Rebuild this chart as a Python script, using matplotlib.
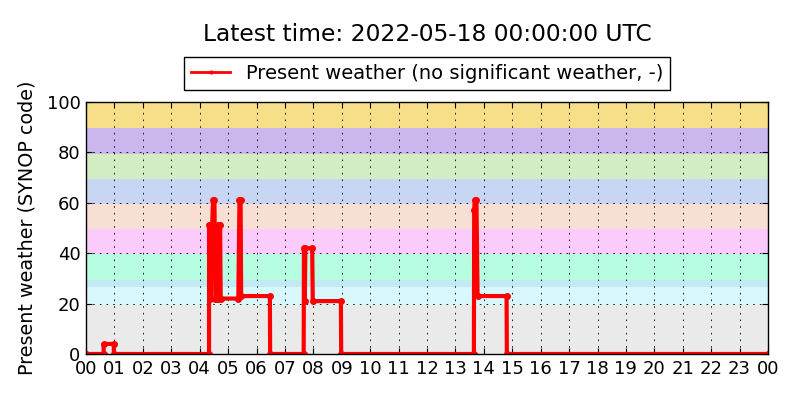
import matplotlib
matplotlib.use("Agg")
import matplotlib.pyplot as plt

# Data (hours since 2022-05-17 00:00 UTC, SYNOP present-weather code)
hours = [0, 0.62, 0.62, 0.98, 0.98, 4.33, 4.33, 4.37, 4.38, 4.40, 4.44, 4.47,
         4.52, 4.55, 4.60, 4.63, 4.66, 4.68, 4.72, 4.74, 5.36, 5.40, 5.44, 5.46,
         6.47, 6.48, 7.66, 7.67, 7.70, 7.72, 7.96, 7.98, 8.97, 8.98, 13.65, 13.66,
         13.68, 13.74, 13.78, 14.80, 14.81, 24.0]
codes = [0, 0, 4, 4, 0, 0, 51, 51, 22, 51, 51, 61,
         61, 22, 22, 51, 22, 51, 51, 22, 22, 61, 61, 23,
         23, 0, 0, 42, 21, 42, 42, 21, 21, 0, 0, 57,
         61, 61, 23, 23, 0, 0]

tick_positions = list(range(25))
tick_labels = ["%02d" % (h % 24) for h in range(25)]

band_edges = [0, 19.5, 26.5, 29.5, 39.5, 49.5, 59.5, 69.5, 79.5, 89.5, 100]
band_colors = ["#eaeaea", "#d8f8fd", "#c3e9f3", "#b7fde2", "#fbcbfb",
               "#f8dfd5", "#c8d6f4", "#d3ecc2", "#c9b7ee", "#f7df8a"]

fig = plt.figure(figsize=(8, 4), dpi=100)
ax = fig.add_axes([0.1075, 0.115, 0.8525, 0.63])

for lo, hi, c in zip(band_edges[:-1], band_edges[1:], band_colors):
    ax.axhspan(lo, hi, color=c, lw=0, zorder=0)

ax.plot(hours, codes, color="red", lw=3, marker="o", markersize=4,
        markeredgecolor="red", label="Present weather (no significant weather, -)",
        zorder=3)

ax.set_xlim(0, 24)
ax.set_ylim(0, 100)
ax.set_xticks(tick_positions)
ax.set_xticklabels(tick_labels)
ax.set_yticks([0, 20, 40, 60, 80, 100])
ax.tick_params(direction="in", top=True, right=True, labelsize=13, length=4, pad=4)
ax.grid(True, color="k", linestyle=(0, (2, 6)), lw=0.6, zorder=1)
ax.set_axisbelow(False)
for s in ax.spines.values():
    s.set_linewidth(1.0)
    s.set_zorder(4)
ax.set_ylabel("Present weather (SYNOP code)", fontsize=13.8, labelpad=7)

leg = ax.legend(loc="lower center", bbox_to_anchor=(0.5, 1.048), fontsize=14,
                fancybox=False, edgecolor="k", framealpha=1, handlelength=2,
                borderaxespad=0, markerscale=0.5, borderpad=0.35)
leg.get_frame().set_linewidth(1.0)
leg.get_lines()[0].set_linewidth(2)

fig.text(0.534, 0.914, "Latest time: 2022-05-18 00:00:00 UTC", ha="center",
         va="center", fontsize=16.8)

fig.savefig("out.png", dpi=100)
